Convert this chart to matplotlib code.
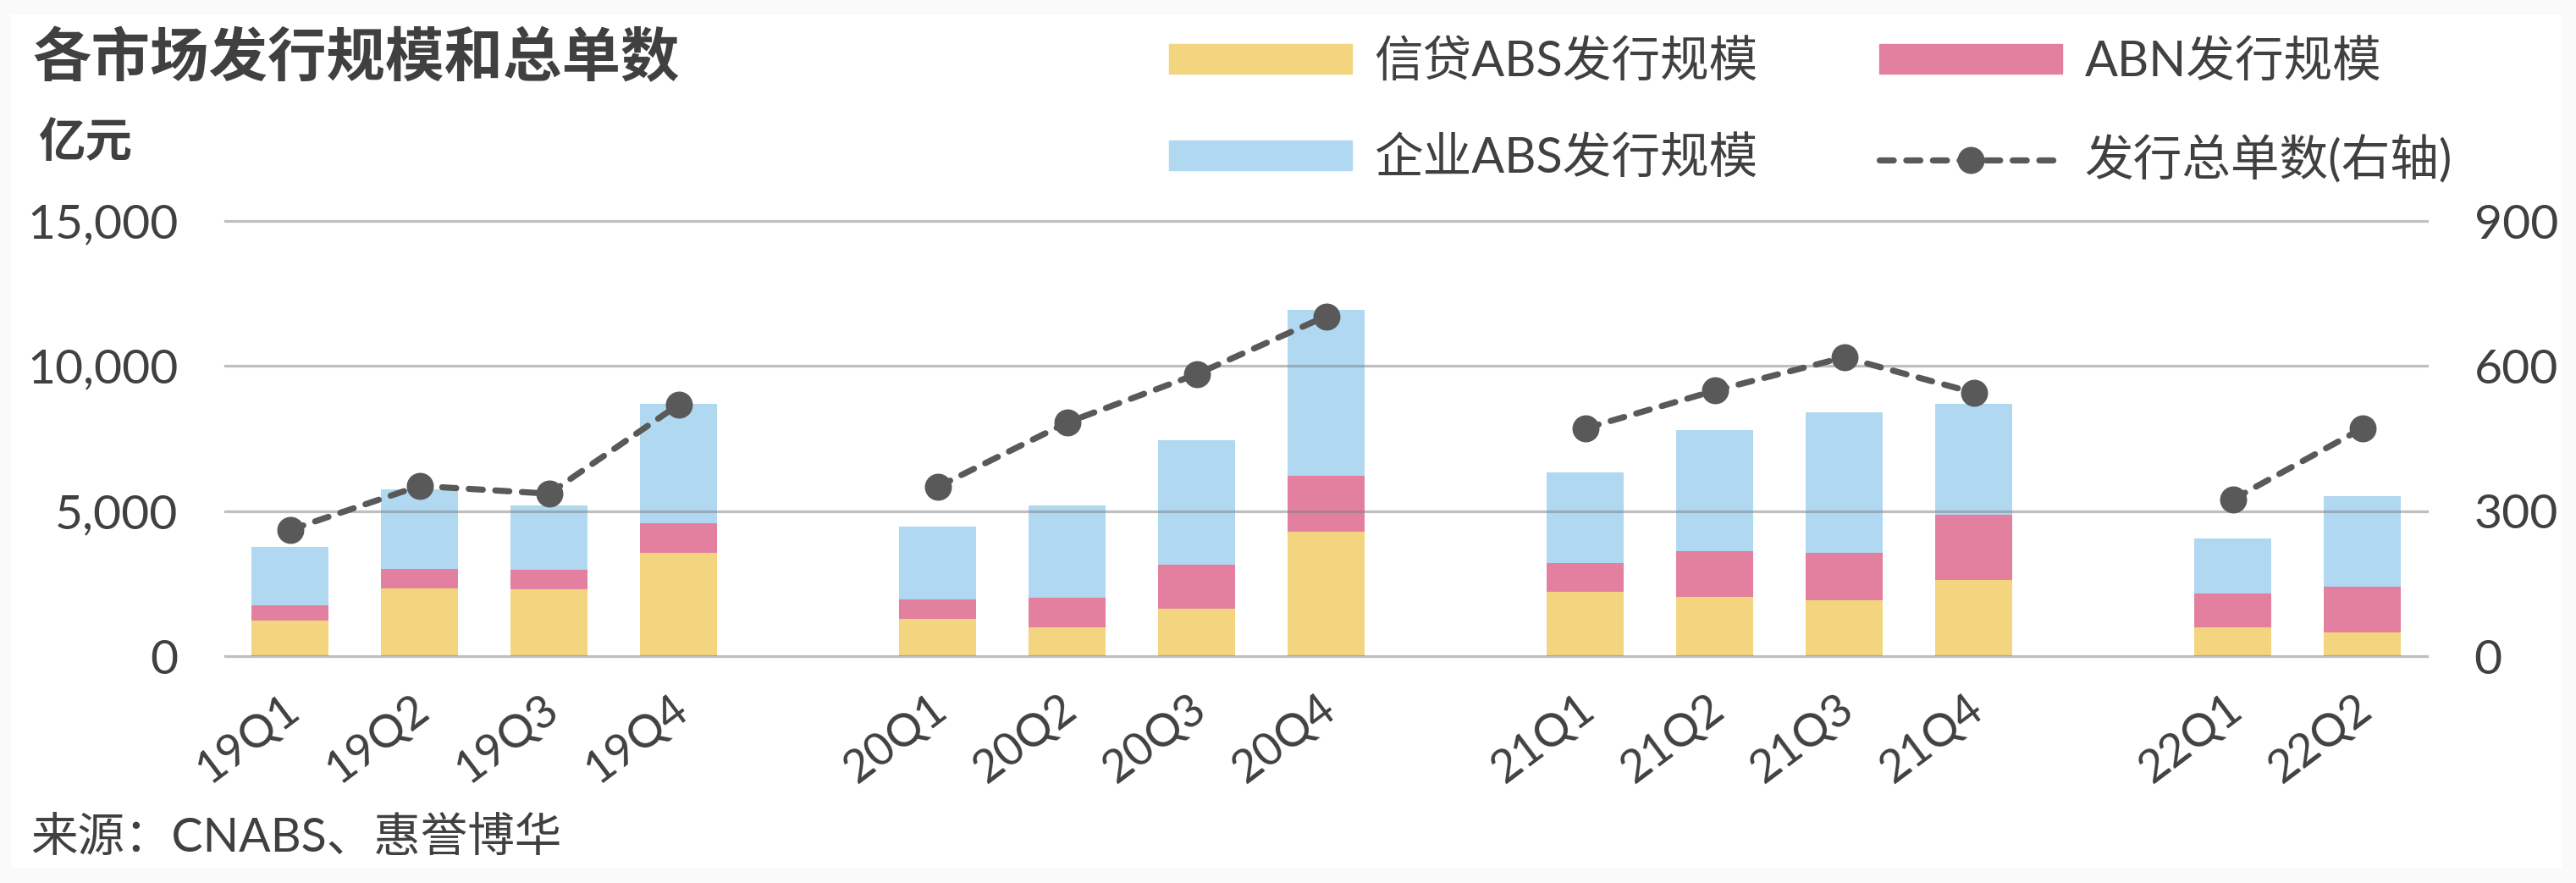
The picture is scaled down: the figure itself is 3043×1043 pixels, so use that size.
import numpy as np
import matplotlib
matplotlib.use("Agg")
import matplotlib.pyplot as plt
import matplotlib.transforms as mtrans
from matplotlib.patches import Rectangle, Patch
from matplotlib.lines import Line2D
from matplotlib.ticker import FuncFormatter

plt.rcParams['font.family'] = ['Lato', 'Noto Sans CJK SC', 'DejaVu Sans']

# 数据 (亿元 / 单)
quarters = ["19Q1", "19Q2", "19Q3", "19Q4",
            "20Q1", "20Q2", "20Q3", "20Q4",
            "21Q1", "21Q2", "21Q3", "21Q4",
            "22Q1", "22Q2"]
credit_abs = [1226, 2335, 2306, 3561, 1284, 992, 1635, 4291, 2218, 2043, 1927, 2627, 992, 817]
abn = [525, 681, 681, 1022, 681, 1022, 1517, 1926, 993, 1577, 1634, 2248, 1168, 1577]
corp_abs = [2014, 2744, 2209, 4116, 2501, 3182, 4291, 5722, 3123, 4174, 4846, 3824, 1897, 3123]
deal_count = [261, 352, 336, 520, 350, 483, 583, 703, 471, 549, 618, 545, 324, 471]

c_yellow = "#F3D47F"
c_pink = "#E3809F"
c_blue = "#B1D8F1"
c_line = "#595959"
c_text = "#404040"

# 每年之间空一格
years = [q[:2] for q in quarters]
year_list = sorted(set(years))
x = np.array([i + year_list.index(y) for i, y in enumerate(years)], dtype=float)

fig = plt.figure(figsize=(30.43, 10.43), dpi=100, facecolor="#FAFAFA")
fig.patches.append(Rectangle((13 / 3043, 1 - 1025 / 1043), 3013 / 3043, 1008 / 1043,
                             transform=fig.transFigure, facecolor="white", edgecolor="none", zorder=-5))

ax = fig.add_axes([266 / 3043, 1 - 775 / 1043, (2867 - 266) / 3043, (775 - 261) / 1043])
ax.set_facecolor("none")
ax2 = ax.twinx()

w = 0.59
b1 = np.array(credit_abs)
b2 = b1 + np.array(abn)
ax.bar(x, credit_abs, w, color=c_yellow, zorder=2)
ax.bar(x, abn, w, bottom=b1, color=c_pink, zorder=2)
ax.bar(x, corp_abs, w, bottom=b2, color=c_blue, zorder=2)

ax.set_ylim(0, 15000)
ax.set_xlim(-0.5, x[-1] + 0.5)
ax.set_yticks([0, 5000, 10000, 15000])
ax.yaxis.set_major_formatter(FuncFormatter(lambda v, p: f"{int(v):,}"))
for v in [0, 5000, 10000, 15000]:
    ax.axhline(v, color="#808080", alpha=0.5, lw=2.3, zorder=3, clip_on=False)

# 发行总单数 按年分段
dash = (0, (2.3, 2.05))
dc = np.array(deal_count)
for y in year_list:
    m = np.array([yy == y for yy in years])
    ax2.plot(x[m], dc[m], color=c_line, lw=5.2, linestyle=dash,
             dash_capstyle="round", marker="o", markersize=22, zorder=4)
ax2.set_ylim(0, 900)
ax2.set_yticks([0, 300, 600, 900])

ax.set_xticks(x)
ax.set_xticklabels(quarters, rotation=37, ha="right", va="top")

for a in (ax, ax2):
    for s in a.spines.values():
        s.set_visible(False)
    a.tick_params(length=0, labelsize=41, colors=c_text, pad=40)
ax.tick_params(axis="x", pad=26, labelsize=39)
# x标签略向右移
shift = mtrans.ScaledTranslation(20 / 100, 0, fig.dpi_scale_trans)
for lab in ax.get_xticklabels():
    lab.set_transform(lab.get_transform() + shift)

# 图例
handles = [Patch(color=c_yellow), Patch(color=c_blue), Patch(color=c_pink),
           Line2D([], [], color=c_line, lw=5.2, linestyle=dash,
                  dash_capstyle="round", marker="o", markersize=22)]
labels = ["信贷ABS发行规模", "企业ABS发行规模", "ABN发行规模", "发行总单数(右轴)"]
fig.legend(handles, labels, ncol=2, loc="upper left", bbox_to_anchor=(1329 / 3043, 1 + 6 / 1043),
           frameon=False, fontsize=41.5, labelcolor=c_text, handlelength=3.75, handleheight=0.56,
           handletextpad=0.45, columnspacing=2.5, labelspacing=1.05)

fig.text(38 / 3043, 1 - 69 / 1043, "各市场发行规模和总单数", fontsize=50, fontweight="bold",
         color=c_text, va="center", ha="left")
fig.text(45 / 3043, 1 - 168 / 1043, "亿元", fontsize=40, fontweight="bold",
         color=c_text, va="center", ha="left")
fig.text(36 / 3043, 1 - 990 / 1043, "来源：CNABS、惠誉博华", fontsize=40,
         color=c_text, va="center", ha="left")

fig.savefig("out.png", dpi=100, facecolor=fig.get_facecolor())
